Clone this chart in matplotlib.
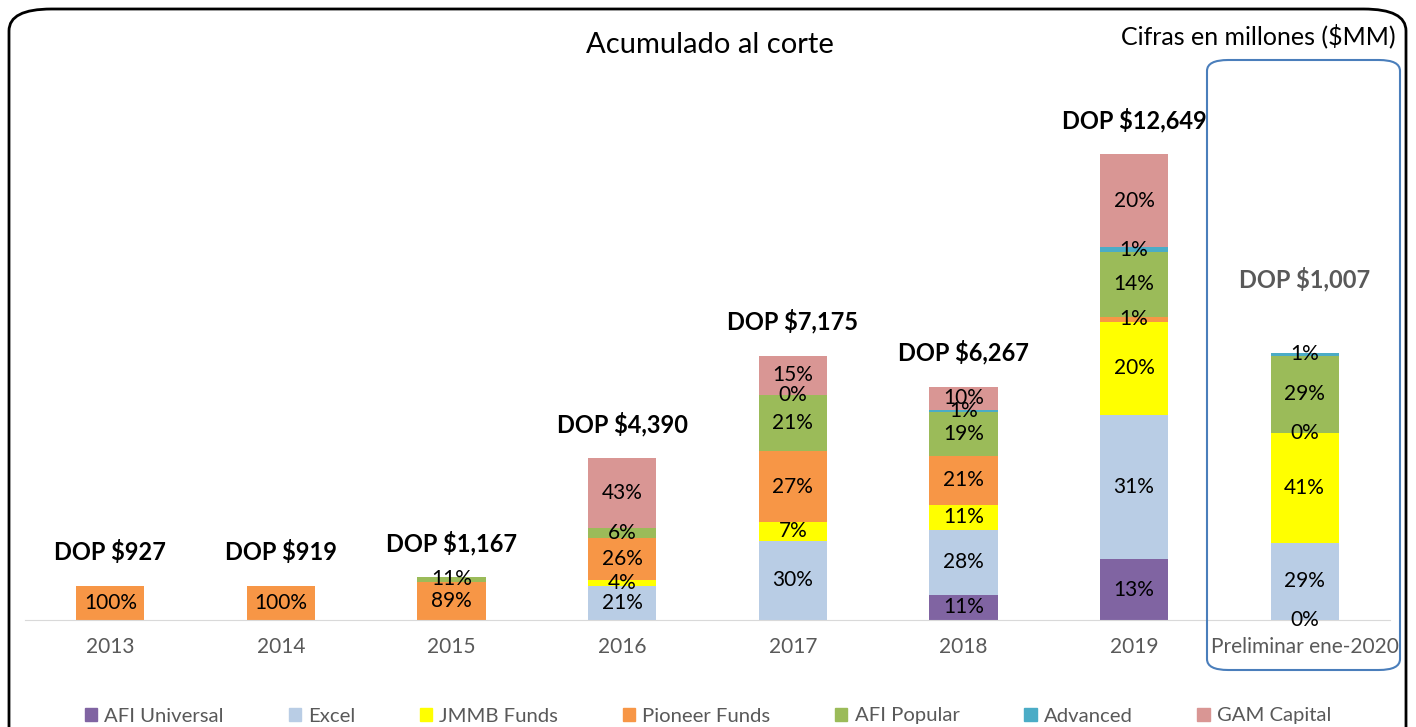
import numpy as np
import matplotlib.pyplot as plt
from matplotlib.patches import FancyBboxPatch

plt.rcParams['font.family'] = ['Lato', 'DejaVu Sans']

categories = ['2013', '2014', '2015', '2016', '2017', '2018', '2019', 'Preliminar ene-2020']
totals = [927, 919, 1167, 4390, 7175, 6267, 12649, 1007]
total_labels = ['DOP $927', 'DOP $919', 'DOP $1,167', 'DOP $4,390', 'DOP $7,175',
                'DOP $6,267', 'DOP $12,649', 'DOP $1,007']

series = ['AFI Universal', 'Excel', 'JMMB Funds', 'Pioneer Funds', 'AFI Popular', 'Advanced', 'GAM Capital']
colors = ['#8064a2', '#b9cde5', '#ffff00', '#f79646', '#9bbb59', '#4bacc6', '#d99694']

# share of each fund per year (%), nan = no data
nan = np.nan
afi_universal = [nan, nan, nan, nan, nan, 11, 13, 0]
excel = [nan, nan, nan, 21, 30, 28, 31, 29]
jmmb = [nan, nan, nan, 4, 7, 11, 20, 41]
pioneer = [100, 100, 89, 26, 27, 21, 1, 0]
afi_popular = [nan, nan, 11, 6, 21, 19, 14, 29]
advanced = [nan, nan, nan, nan, 0, 1, 1, 1]
gam = [nan, nan, nan, 43, 15, 10, 20, nan]

shares = np.array([afi_universal, excel, jmmb, pioneer, afi_popular, advanced, gam], dtype=float)

fig = plt.figure(figsize=(14.16, 7.27), dpi=100)
ax = fig.add_axes([25 / 1416, 1 - 620 / 727, 1365 / 1416, 560 / 727])
ax2 = ax.twinx()  # preliminary month on its own scale

x = np.arange(len(categories))
width = 0.4
n = len(categories)

for i in range(n):
    a = ax2 if i == n - 1 else ax
    bottom = 0
    for k, name in enumerate(series):
        p = shares[k, i]
        if np.isnan(p):
            continue
        val = totals[i] * p / 100
        a.bar(x[i], val, width, bottom=bottom, color=colors[k])
        a.text(x[i], bottom + val / 2, f'{p:.0f}%', ha='center', va='center',
               fontsize=15, color='black')
        bottom += val
    off = 62 if i == n - 1 else 22
    a.annotate(total_labels[i], (x[i], bottom), xytext=(0, off), textcoords='offset pixels',
               ha='center', va='bottom', fontsize=17, fontweight='bold',
               color='#595959' if i == n - 1 else 'black')

ax.set_ylim(0, 12649 * 560 / 466)
ax2.set_ylim(0, 1007 * 560 / 267)
ax.set_xlim(-0.5, n - 0.5)
for a in (ax, ax2):
    a.set_yticks([])
    for s in ['top', 'left', 'right']:
        a.spines[s].set_visible(False)
    a.spines['bottom'].set_color('#d9d9d9')
ax2.spines['bottom'].set_visible(False)
ax.set_xticks(x)
ax.set_xticklabels(categories, fontsize=15, color='#595959')
ax.tick_params(axis='x', length=0, pad=12)

handles = [plt.Rectangle((0, 0), 1, 1, color=c) for c in colors]
fig.legend(handles, series, loc='center', bbox_to_anchor=(0.5, 1 - 716 / 727), ncol=7,
           frameon=False, fontsize=14.6, handlelength=0.6, handleheight=0.6,
           columnspacing=3.2, handletextpad=0.35, labelcolor='#595959')

fig.text(710 / 1416, 1 - 45 / 727, 'Acumulado al corte', ha='center', va='center', fontsize=21)
fig.text(1396 / 1416, 1 - 36 / 727, 'Cifras en millones ($MM)', ha='right', va='center', fontsize=18)

# outer frame and highlight box
fig.patches.append(FancyBboxPatch((9 / 1416, -0.05), 1397 / 1416, 1.05 - 9 / 727,
                                  boxstyle='round,pad=0,rounding_size=0.03',
                                  transform=fig.transFigure, fill=False, ec='black', lw=2))
fig.patches.append(FancyBboxPatch((1207 / 1416, 1 - 670 / 727), 193 / 1416, 610 / 727,
                                  boxstyle='round,pad=0,rounding_size=0.015',
                                  transform=fig.transFigure, fill=False, ec='#4a7ebb', lw=1.5))

fig.savefig('out.png', dpi=100)
